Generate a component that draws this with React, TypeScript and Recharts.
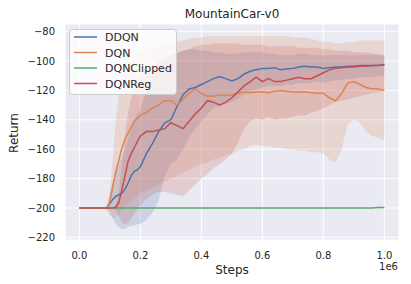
import { ComposedChart, Area, Line, XAxis, YAxis, CartesianGrid } from 'recharts';

// training steps, in units of 1e6
const steps = [
  0, 0.02, 0.04, 0.06, 0.08, 0.09, 0.1, 0.11, 0.12, 0.13, 0.14, 0.15, 0.16, 0.17, 0.18, 0.19, 0.2,
  0.22, 0.24, 0.26, 0.28, 0.3, 0.32, 0.34, 0.36, 0.38, 0.4, 0.42, 0.44, 0.46, 0.48, 0.5,
  0.52, 0.54, 0.56, 0.58, 0.6, 0.62, 0.64, 0.66, 0.68, 0.7, 0.72, 0.74, 0.76, 0.78, 0.8,
  0.82, 0.84, 0.86, 0.88, 0.9, 0.92, 0.94, 0.96, 0.98, 1.0,
];

const ddqnMean = [
  -200, -200, -200, -200, -200, -200, -197, -194, -192, -191, -190, -187, -183, -178, -175, -174, -172,
  -163, -156, -148, -142, -140, -131, -123, -119, -118, -116, -114, -112, -110.5, -112, -113.5,
  -112, -109, -107, -106, -105, -105, -104.5, -106, -105.5, -105, -104, -103.6, -104, -104, -105,
  -104.5, -104, -104, -103.5, -103.5, -103, -103, -103, -102.8, -102.5,
];
const ddqnLow = [
  -200, -200, -200, -200, -200, -200, -203, -207, -211, -213, -214.5, -214, -213, -212, -212, -211, -211,
  -208, -203, -195, -178, -170, -167, -160, -152, -146, -141, -136, -132, -130, -129, -128,
  -126, -123, -121, -119, -118, -117, -117, -117, -116, -116, -115, -115, -115, -114, -115,
  -114, -113, -113, -112, -112, -111, -111, -111, -110, -110,
];
const ddqnHigh = [
  -200, -200, -200, -200, -200, -200, -190, -182, -176, -170, -165, -160, -153, -146, -140, -136, -133,
  -121, -111, -103, -98, -96, -94, -93, -92, -92, -93, -93, -94, -94, -95, -95,
  -95, -94, -94, -94, -94, -95, -95, -96, -96, -96, -95, -95, -96, -96, -96,
  -96, -96, -96, -96, -96, -96, -96, -96, -96, -96,
];

const dqnMean = [
  -200, -200, -200, -200, -200, -200, -196, -185, -175, -167, -159, -153, -149, -145, -141, -139, -137,
  -135, -132, -130, -127, -127, -130, -126, -122, -119, -122, -124, -124, -123, -123.5, -123,
  -122, -121, -121.5, -121, -121, -121.5, -120.5, -120, -120.5, -121, -121, -121, -121.5, -122, -122,
  -125, -127, -122, -115, -114, -116, -118, -119, -119, -120,
];
const dqnLow = [
  -200, -200, -200, -200, -200, -202, -205, -207, -206, -204, -201, -199, -197, -195, -193, -192, -190,
  -188, -186, -184, -182, -180, -178, -176, -174, -172, -170, -169, -167, -166, -164, -163,
  -161, -160, -158, -157, -158, -158, -159, -159, -160, -160, -161, -161, -162, -162, -163,
  -167, -169, -160, -143, -140, -142, -148, -151, -152, -154,
];
const dqnHigh = [
  -200, -200, -200, -200, -200, -198, -190, -165, -140, -122, -112, -105, -100, -97, -95, -94, -93,
  -92, -91, -90, -89, -88, -87, -86, -85, -84, -84, -83, -83, -83, -83, -83,
  -83, -83, -83, -83, -83, -83, -83, -83, -83, -84, -84, -84, -85, -86, -87,
  -87, -88, -88, -87, -87, -86, -86, -86, -86, -86,
];

const clippedMean = [
  -200, -200, -200, -200, -200, -200, -200, -200, -200, -200, -200, -200, -200, -200, -200, -200, -200,
  -200, -200, -200, -200, -200, -200, -200, -200, -200, -200, -200, -200, -200, -200, -200,
  -200, -200, -200, -200, -200, -200, -200, -200, -200, -200, -200, -200, -200, -200, -200,
  -200, -200, -200, -200, -200, -200, -200, -200, -199.7, -199.7,
];

const regMean = [
  -200, -200, -200, -200, -200, -200, -200, -200, -199.5, -196, -187, -178, -168, -163, -159, -155, -151,
  -148, -148, -147, -146, -142, -144, -146, -141, -136, -132, -127, -128, -130, -128, -125,
  -121, -117, -114, -111, -114, -112, -114, -114, -113, -112, -111, -112, -112, -110, -108,
  -106, -105, -104.5, -104, -104, -103.5, -103.5, -103, -103, -102.5,
];
const regLow = [
  -200, -200, -200, -200, -200, -200, -200, -200, -202, -206, -210, -211, -210, -207, -204, -201, -198,
  -194, -191, -189, -189, -190, -191, -192, -188, -184, -180, -177, -173, -170, -167, -163,
  -156, -146, -141, -139, -140, -138, -140, -139, -139, -138, -137, -137, -135, -134, -132,
  -130, -128, -127, -126, -125, -124, -123, -122, -121, -120,
];
const regHigh = [
  -200, -200, -200, -200, -200, -200, -200, -200, -197, -188, -170, -150, -135, -125, -118, -113, -110,
  -106, -103, -100, -98, -96, -95, -93, -92, -90, -89, -89, -88, -88, -88, -88,
  -88, -89, -89, -89, -89, -90, -90, -90, -90, -90, -91, -91, -91, -91, -92,
  -92, -93, -93, -93, -94, -94, -94, -95, -95, -96,
];

const seriesNames = ['DDQN', 'DQN', 'DQNClipped', 'DQNReg'];
const seriesColors = ['#4C72B0', '#DD8452', '#55A868', '#C44E52'];
const xTicks = [0, 0.2, 0.4, 0.6, 0.8, 1.0];
const yTicks = [-220, -200, -180, -160, -140, -120, -100, -80];

const data = steps.map((step, i) => ({
  step,
  ddqn: ddqnMean[i],
  ddqnBand: [ddqnLow[i], ddqnHigh[i]],
  dqn: dqnMean[i],
  dqnBand: [dqnLow[i], dqnHigh[i]],
  clipped: clippedMean[i],
  reg: regMean[i],
  regBand: [regLow[i], regHigh[i]],
}));

const font = '"DejaVu Sans", sans-serif';
const ink = '#262626';

export default function App() {
  return (
    <div style={{ position: 'absolute', left: 0, top: 0, width: 411, height: 284, background: '#fff', fontFamily: font }}>
      <ComposedChart width={411} height={284} data={data} margin={{ top: 24, right: 12, bottom: 0, left: 0 }}>
        <CartesianGrid fill="#EAEAF2" stroke="#ffffff" strokeWidth={1} />
        <XAxis
          dataKey="step"
          type="number"
          domain={[-0.047, 1.048]}
          allowDataOverflow
          ticks={xTicks}
          tickFormatter={(v: number) => v.toFixed(1)}
          axisLine={false}
          tickLine={false}
          tickMargin={6}
          height={44}
          tick={{ fill: ink, fontSize: 10, fontFamily: font }}
        />
        <YAxis
          type="number"
          domain={[-221.8, -74.8]}
          allowDataOverflow
          ticks={yTicks}
          tickFormatter={(v: number) => String(v).replace('-', '\u2212')}
          axisLine={false}
          tickLine={false}
          tickMargin={4}
          width={65}
          tick={{ fill: ink, fontSize: 10, fontFamily: font }}
        />

        <Area type="linear" dataKey="ddqnBand" stroke="none" fill={seriesColors[0]} fillOpacity={0.2} isAnimationActive={false} activeDot={false} />
        <Line type="linear" dataKey="ddqn" stroke={seriesColors[0]} strokeWidth={1.5} dot={false} activeDot={false} isAnimationActive={false} />
        <Area type="linear" dataKey="dqnBand" stroke="none" fill={seriesColors[1]} fillOpacity={0.2} isAnimationActive={false} activeDot={false} />
        <Line type="linear" dataKey="dqn" stroke={seriesColors[1]} strokeWidth={1.5} dot={false} activeDot={false} isAnimationActive={false} />
        <Line type="linear" dataKey="clipped" stroke={seriesColors[2]} strokeWidth={1.5} dot={false} activeDot={false} isAnimationActive={false} />
        <Area type="linear" dataKey="regBand" stroke="none" fill={seriesColors[3]} fillOpacity={0.2} isAnimationActive={false} activeDot={false} />
        <Line type="linear" dataKey="reg" stroke={seriesColors[3]} strokeWidth={1.5} dot={false} activeDot={false} isAnimationActive={false} />
      </ComposedChart>

      <svg width={411} height={284} style={{ position: 'absolute', left: 0, top: 0, pointerEvents: 'none' }}>
        <text x={232} y={18} textAnchor="middle" fontSize={12} fill={ink} fontFamily={font}>MountainCar-v0</text>
        <text x={232} y={274} textAnchor="middle" fontSize={12} fill={ink} fontFamily={font}>Steps</text>
        <text x={398} y={270} textAnchor="end" fontSize={10} fill={ink} fontFamily={font}>1e6</text>
        <text x={18} y={133} textAnchor="middle" fontSize={12} fill={ink} fontFamily={font} transform="rotate(-90 18 133)">Return</text>

        <rect x={69.5} y={29.5} width={107} height={65} rx={3} fill="#ffffff" fillOpacity={0.8} stroke="#cccccc" strokeWidth={1} />
        {seriesNames.map((name, i) => {
          const y = 37 + i * 15.5;
          return (
            <g key={name}>
              <line x1={74} x2={97} y1={y} y2={y} stroke={seriesColors[i]} strokeWidth={1.5} />
              <text x={105} y={y + 4} fontSize={11} fill={ink} fontFamily={font}>{name}</text>
            </g>
          );
        })}
      </svg>
    </div>
  );
}
